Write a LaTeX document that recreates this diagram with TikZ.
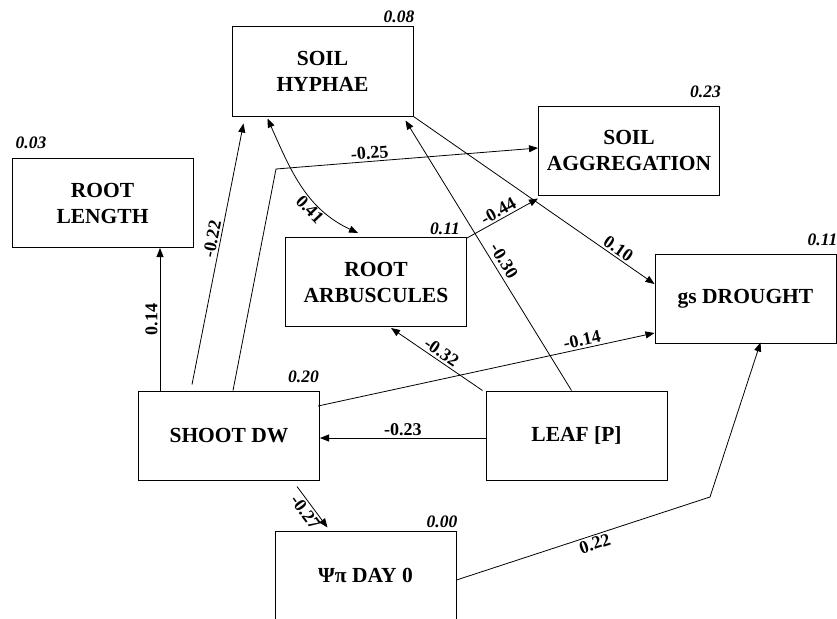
\documentclass[tikz,border=0pt]{standalone}
\usepackage{fontspec}
\setmainfont{Liberation Serif}
\usetikzlibrary{arrows.meta}
\tikzset{
  var/.style={draw, line width=1pt, minimum width=181pt, minimum height=89pt, align=center, font=\bfseries\fontsize{21.5}{26}\selectfont},
  rsq/.style={inner sep=1pt, font=\bfseries\itshape\fontsize{17.5}{17.5}\selectfont},
  coef/.style={sloped, inner sep=2pt, font=\bfseries\fontsize{18}{18}\selectfont},
  arr/.style={-{Triangle[length=9pt,width=7pt]}, line width=0.8pt},
}

\begin{document}
\begin{tikzpicture}[x=1pt,y=1pt]
\useasboundingbox (0,0) rectangle (837,-618);
\node[var] (hyphae) at (322.5,-71.5) {SOIL\\HYPHAE};
\node[var] (length) at (102.5,-203) {ROOT\\LENGTH};
\node[var] (aggr) at (629,-150.5) {SOIL\\AGGREGATION};
\node[var] (arbus) at (376,-282) {ROOT\\ARBUSCULES};
\node[var] (drought) at (745.5,-298.5) {gs DROUGHT};
\node[var] (shoot) at (229,-435.5) {SHOOT DW};
\node[var] (leaf) at (576.5,-435.5) {LEAF [P]};
\node[var] (psi) at (365.5,-575.5) {Ψπ DAY 0};
%
\node[rsq, anchor=south east] (r2hyphae) at ([xshift=2pt,yshift=3pt]hyphae.north east) {0.08};
\node[rsq, anchor=south west] (r2length) at ([xshift=3pt,yshift=8pt]length.north west) {0.03};
\node[rsq, anchor=south east] (r2aggr) at ([xshift=2pt,yshift=7pt]aggr.north east) {0.23};
\node[rsq, anchor=south east] (r2arbus) at ([xshift=-6pt,yshift=1pt]arbus.north east) {0.11};
\node[rsq, anchor=south east] (r2drought) at ([xshift=2pt,yshift=7pt]drought.north east) {0.11};
\node[rsq, anchor=south east] (r2shoot) at ([yshift=7pt]shoot.north east) {0.20};
\node[rsq, anchor=south east] (r2psi) at ([xshift=2pt,yshift=2pt]psi.north east) {0.00};
%
\draw[arr] ([xshift=22pt]shoot.north west) -- node[coef,above,midway]{0.14} ([xshift=22pt]shoot.north west |- length.south);
\draw[arr] ([xshift=54pt,yshift=6pt]shoot.north west) -- node[coef,above,pos=0.55]{-0.22} ([xshift=12pt,yshift=-7pt]hyphae.south west);
\draw[arr] ([xshift=95pt]shoot.north west) -- (276,-169) -- node[coef,above,pos=0.36]{-0.25} ([yshift=2.5pt]aggr.west);
\draw[{Triangle[length=9pt,width=7pt]}-{Triangle[length=9pt,width=7pt]}, line width=0.8pt] ([xshift=36pt,yshift=-2pt]hyphae.south west) to[out=-66,in=155] node[coef,below,pos=0.66]{0.41} ([xshift=73pt,yshift=4pt]arbus.north west);
\draw[arr] (hyphae.south east) -- node[coef,above,pos=0.83]{0.10} ([yshift=14.5pt]drought.west);
\draw[arr] ([yshift=-1pt]arbus.north east) -- node[coef,above,midway]{-0.44} ([yshift=-3pt]aggr.south west);
%
\draw[arr] ([xshift=86pt]leaf.north west) -- node[coef,above,inner sep=4pt,pos=0.46]{-0.30} ([xshift=-8pt,yshift=-4pt]hyphae.south east);
\draw[arr] ([xshift=-3pt]leaf.north west) -- node[coef,above,pos=0.5]{-0.32} ([xshift=15pt,yshift=-1pt]arbus.south);
\draw[arr] ([xshift=-2pt,yshift=29.5pt]shoot.east) -- node[coef,above,pos=0.79]{-0.14} ([yshift=-34.5pt]drought.west);
\draw[arr] ([yshift=-2.5pt]leaf.west) -- node[coef,above,midway]{-0.23} ([yshift=-2.5pt]shoot.east);
%
\draw[arr] ([xshift=-23pt,yshift=-6pt]shoot.south east) -- node[coef,below,midway]{-0.27} ([xshift=53pt,yshift=3pt]psi.north west);
\draw[arr] ([yshift=-4.5pt]psi.east) -- node[coef,below,pos=0.535]{0.22} (710,-497) -- ([xshift=106pt,yshift=1pt]drought.south west);
\end{tikzpicture}
\end{document}
